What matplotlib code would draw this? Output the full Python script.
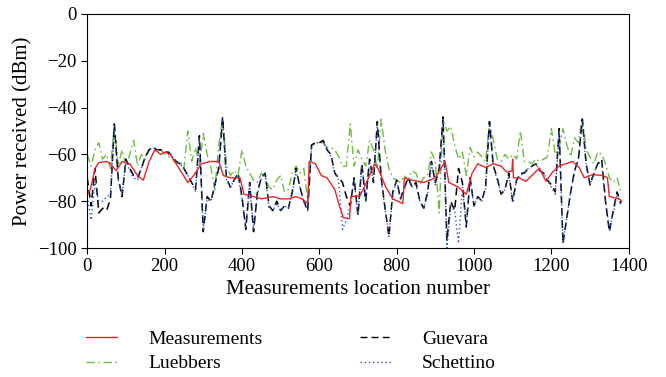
import numpy as np
import matplotlib.pyplot as plt

plt.rcParams['font.family'] = ['Liberation Serif', 'DejaVu Serif']
plt.rcParams['font.size'] = 15

# location grid for the model curves (every 10 locations)
loc = np.arange(0, 1390, 10)

guevara = [-70, -82, -66, -85, -83, -84, -79, -47, -70, -78,
           -62, -66, -69, -70, -66, -61, -58, -57, -58, -58,
           -59, -59, -61, -63, -64, -66, -69, -72, -75, -52,
           -93, -78, -80, -73, -66, -44, -70, -74, -71, -68,
           -78, -92, -72, -93, -76, -70, -68, -82, -84, -80,
           -84, -82, -83, -76, -66, -74, -80, -84, -56, -55,
           -55, -54, -58, -60, -68, -70, -72, -78, -82, -70,
           -86, -64, -80, -62, -72, -46, -70, -83, -95, -76,
           -71, -79, -74, -70, -74, -72, -80, -83, -76, -63,
           -72, -66, -44, -97, -80, -84, -66, -72, -91, -70,
           -82, -78, -80, -74, -46, -65, -70, -77, -75, -68,
           -80, -71, -68, -68, -66, -65, -64, -67, -68, -71,
           -73, -76, -49, -98, -87, -76, -67, -62, -45, -64,
           -73, -68, -64, -62, -80, -93, -84, -76, -81]

schettino = [-78, -88, -72, -80, -80, -78, -77, -48, -71, -77,
             -63, -67, -70, -71, -66, -61, -58, -57, -58, -58,
             -59, -60, -61, -63, -64, -66, -69, -72, -76, -53,
             -92, -79, -80, -73, -66, -45, -71, -74, -71, -69,
             -79, -91, -73, -92, -77, -70, -68, -83, -84, -81,
             -84, -82, -83, -77, -67, -74, -80, -84, -57, -55,
             -55, -55, -58, -61, -68, -71, -92, -88, -82, -71,
             -86, -65, -80, -63, -72, -47, -71, -83, -95, -77,
             -71, -79, -75, -70, -74, -73, -80, -83, -77, -64,
             -73, -67, -45, -100, -82, -84, -98, -74, -90, -71,
             -82, -78, -80, -75, -47, -65, -71, -77, -75, -69,
             -80, -71, -69, -68, -66, -65, -64, -67, -68, -71,
             -74, -77, -50, -98, -87, -76, -67, -62, -46, -65,
             -73, -68, -64, -63, -80, -92, -85, -77, -82]

luebbers = [-60, -65, -58, -55, -62, -60, -66, -47, -65, -58,
            -65, -60, -54, -65, -60, -62, -58, -57, -58, -58,
            -60, -61, -62, -64, -63, -66, -50, -63, -57, -65,
            -51, -60, -66, -75, -56, -44, -65, -69, -67, -69,
            -58, -65, -68, -71, -72, -68, -70, -74, -75, -71,
            -69, -76, -75, -68, -65, -68, -66, -80, -56, -55,
            -55, -55, -57, -57, -58, -61, -65, -65, -47, -65,
            -58, -62, -65, -54, -58, -66, -45, -58, -66, -70,
            -71, -72, -69, -71, -67, -68, -73, -70, -69, -59,
            -63, -85, -44, -50, -48, -56, -62, -59, -69, -57,
            -61, -59, -61, -63, -46, -54, -62, -63, -60, -62,
            -60, -62, -50, -63, -63, -64, -62, -63, -62, -61,
            -49, -60, -57, -49, -56, -61, -53, -55, -44, -58,
            -61, -64, -59, -60, -64, -70, -72, -70, -76]

# measured curve, read at its turning points
meas_loc = [0, 8, 20, 30, 50, 60, 75, 90, 110, 130, 145, 160, 175, 190,
            200, 215, 230, 245, 260, 275, 295, 320, 340, 352, 370, 395,
            405, 430, 450, 480, 500, 520, 540, 555, 570, 574, 590, 605,
            620, 640, 652, 662, 678, 682, 705, 722, 743, 752, 772, 790,
            816, 820, 840, 870, 900, 925, 935, 960, 980, 995, 1010, 1030,
            1050, 1070, 1085, 1098, 1100, 1102, 1117, 1134, 1152, 1169,
            1186, 1203, 1221, 1238, 1255, 1272, 1285, 1307, 1333, 1345,
            1350, 1376, 1382]
measurements = [-77, -75, -66, -63.5, -63, -64, -67, -63, -64, -69, -71,
                -63, -58, -60, -59, -60, -64, -68, -72, -69, -64, -63,
                -63, -69, -70, -70, -77, -78, -79, -78, -79, -79, -78,
                -79, -81, -63, -64, -69, -70, -75, -82, -87, -87.5, -78,
                -77.7, -72, -64, -66, -74, -79, -81, -70, -71, -72, -70,
                -63, -72, -74, -77, -68, -64, -65.6, -64, -65, -67.6,
                -67, -62, -70, -70, -71.5, -68.6, -65.8, -71.5, -67.6,
                -64.8, -64, -63, -65.6, -70, -68.6, -69, -70, -78, -79,
                -80]

red = '#e8252a'
green = '#6fbb45'
blue = '#3355cc'
dashdot = (0, (6, 2.5, 1.2, 2.5))

fig = plt.figure(figsize=(6.66, 3.77), dpi=100)
ax = fig.add_axes([0.131, 0.342, 0.813, 0.621])

ax.plot(loc, luebbers, color=green, lw=1.0, ls=dashdot)
ax.plot(loc, guevara, color='black', lw=1.1, ls=(0, (5, 3)))
ax.plot(loc, schettino, color=blue, lw=1.0, ls=(0, (1, 2)))
ax.plot(meas_loc, measurements, color=red, lw=1.0)

ax.set_xlim(0, 1400)
ax.set_ylim(-100, 0)
ax.set_xticks(np.arange(0, 1401, 200))
ax.set_yticks(np.arange(-100, 1, 20))
ax.tick_params(direction='out', length=4, top=False, right=False,
               labelsize=13.5)
ax.set_xlabel('Measurements location number', labelpad=3)
ax.set_ylabel('Power received (dBm)', labelpad=4)

h = [plt.Line2D([], [], color=red, lw=1.0),
     plt.Line2D([], [], color=green, lw=1.0, ls=dashdot),
     plt.Line2D([], [], color='black', lw=1.0, ls=(0, (5, 3))),
     plt.Line2D([], [], color=blue, lw=1.0, ls=(0, (1, 2)))]
fig.legend(h, ['Measurements', 'Luebbers', 'Guevara', 'Schettino'],
           ncol=2, frameon=False, loc='upper left', fontsize=14,
           bbox_to_anchor=(0.109, 0.16), handlelength=1.6,
           columnspacing=5.0, labelspacing=0.35, handletextpad=1.6,
           borderpad=0.2)

fig.savefig('out.png', dpi=100)
